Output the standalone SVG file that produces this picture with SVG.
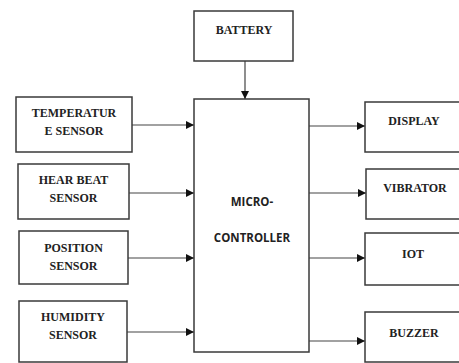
<svg xmlns="http://www.w3.org/2000/svg" width="459" height="363" viewBox="0 0 459 363">
<style>
.box{fill:#fff;stroke:#3a3a3a;stroke-width:1.5}
.t{font-family:"Liberation Serif","Times New Roman",serif;font-weight:bold;font-size:12px;fill:#222;text-anchor:middle}
.m{font-family:"Open Sans","Liberation Sans",sans-serif;font-weight:bold;font-size:11.5px;fill:#222;text-anchor:middle}
.c{stroke:#444;stroke-width:1.2;fill:none;marker-end:url(#ah)}
</style>
<defs>
<marker id="ah" viewBox="0 0 10 10" refX="10" refY="5" markerWidth="8" markerHeight="8" markerUnits="userSpaceOnUse" orient="auto">
<path d="M0,0 L10,5 L0,10 z" fill="#111"/>
</marker>
</defs>
<rect width="459" height="363" fill="#fff"/>
<g id="connectors">
<line class="c" x1="245" y1="61" x2="245" y2="99"/>
<line class="c" x1="132" y1="125" x2="194" y2="125"/>
<line class="c" x1="129" y1="193" x2="194" y2="193"/>
<line class="c" x1="128" y1="258" x2="194" y2="258"/>
<line class="c" x1="127" y1="332" x2="194" y2="332"/>
<line class="c" x1="309" y1="126" x2="365" y2="126"/>
<line class="c" x1="309" y1="193" x2="366" y2="193"/>
<line class="c" x1="309" y1="258" x2="365" y2="258"/>
<line class="c" x1="309" y1="341" x2="365" y2="341"/>
</g>
<g id="battery"><rect class="box" x="194" y="11" width="99" height="50"/><text class="t" x="244" y="34">BATTERY</text></g>
<g id="microcontroller"><rect class="box" x="194" y="99" width="115" height="253"/><text class="m" x="252" y="206">MICRO-</text><text class="m" x="252" y="242">CONTROLLER</text></g>
<g id="temperature"><rect class="box" x="16" y="97" width="116" height="55"/><text class="t" x="74" y="117">TEMPERATUR</text><text class="t" x="74" y="135">E SENSOR</text></g>
<g id="heartbeat"><rect class="box" x="18" y="164" width="111" height="55"/><text class="t" x="73.5" y="184">HEAR BEAT</text><text class="t" x="73.5" y="202">SENSOR</text></g>
<g id="position"><rect class="box" x="19" y="231" width="109" height="53"/><text class="t" x="73.5" y="252">POSITION</text><text class="t" x="73.5" y="270">SENSOR</text></g>
<g id="humidity"><rect class="box" x="19" y="301" width="108" height="61"/><text class="t" x="73" y="321">HUMIDITY</text><text class="t" x="73" y="339">SENSOR</text></g>
<g id="display"><rect class="box" x="365" y="102" width="100" height="50"/><text class="t" x="414" y="125">DISPLAY</text></g>
<g id="vibrator"><rect class="box" x="366" y="169" width="100" height="50"/><text class="t" x="415" y="192">VIBRATOR</text></g>
<g id="iot"><rect class="box" x="365" y="233" width="100" height="52"/><text class="t" x="413" y="258">IOT</text></g>
<g id="buzzer"><rect class="box" x="365" y="312" width="100" height="50"/><text class="t" x="414" y="337">BUZZER</text></g>
</svg>
